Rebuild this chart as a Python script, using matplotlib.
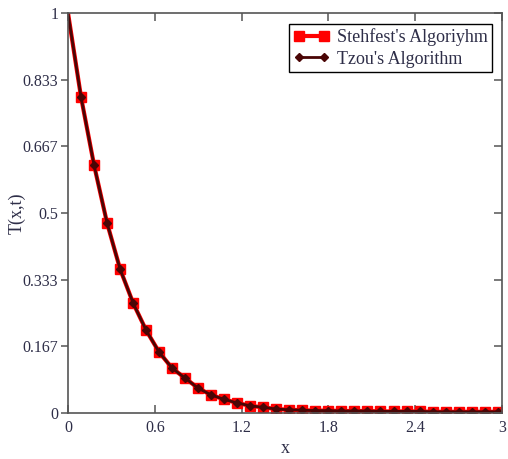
import numpy as np
import matplotlib.pyplot as plt

plt.rcParams['font.family'] = ['Liberation Serif', 'DejaVu Serif']

# sample points along x (step 0.09)
x = np.round(np.arange(0, 34) * 0.09, 2)

# Stehfest numerical inversion
T_stehfest = [1.0, 0.79, 0.62, 0.475, 0.36, 0.275, 0.207, 0.152, 0.112, 0.087,
              0.062, 0.045, 0.034, 0.025, 0.018, 0.014, 0.010, 0.008, 0.007, 0.006,
              0.006, 0.005, 0.005, 0.005, 0.004, 0.004, 0.004, 0.004, 0.003, 0.003,
              0.003, 0.003, 0.003, 0.003]

# Tzou's algorithm
T_tzou = [1.0, 0.79, 0.62, 0.475, 0.36, 0.275, 0.207, 0.152, 0.112, 0.087,
          0.062, 0.045, 0.034, 0.025, 0.018, 0.014, 0.010, 0.008, 0.007, 0.006,
          0.006, 0.005, 0.005, 0.005, 0.004, 0.004, 0.004, 0.004, 0.003, 0.003,
          0.003, 0.003, 0.003, 0.003]

yticks = [0, 0.167, 0.333, 0.5, 0.667, 0.833, 1]
ytick_labels = ['0', '0.167', '0.333', '0.5', '0.667', '0.833', '1']
xticks = [0, 0.6, 1.2, 1.8, 2.4, 3]
xtick_labels = ['0', '0.6', '1.2', '1.8', '2.4', '3']

txt_color = '#2e2e48'
spine_color = '#555555'

fig = plt.figure(figsize=(5.08, 4.59), dpi=100)
ax = fig.add_axes([68 / 508, 46 / 459, 434 / 508, 400 / 459])

ax.plot(x, T_stehfest, color='red', lw=3, marker='s', ms=6.5,
        markevery=slice(1, None), label="Stehfest's Algoriyhm")
ax.plot(x, T_tzou, color='#4a0505', lw=2, marker='D', ms=4.5,
        markevery=slice(1, None), label="Tzou's Algorithm")

ax.set_xlim(0, 3)
ax.set_ylim(0, 1)
ax.set_xticks(xticks)
ax.set_xticklabels(xtick_labels)
ax.set_yticks(yticks)
ax.set_yticklabels(ytick_labels)

ax.tick_params(axis='x', direction='in', top=True, length=6, width=1.1,
               color=spine_color, labelsize=11.5, labelcolor=txt_color, pad=5)
ax.tick_params(axis='y', direction='out', length=5, width=1.1,
               color=spine_color, labelsize=11.5, labelcolor=txt_color, pad=2)
for s in ax.spines.values():
    s.set_color(spine_color)
    s.set_linewidth(1.2)

# inward ticks on the right side
ax2 = ax.twinx()
ax2.set_ylim(0, 1)
ax2.set_yticks(yticks)
ax2.tick_params(axis='y', direction='in', length=6, width=1.1,
                color=spine_color, labelright=False)
for s in ax2.spines.values():
    s.set_visible(False)

ax.set_xlabel('x', fontsize=13, color=txt_color, labelpad=3)
ax.set_ylabel('T(x,t)', fontsize=13, color=txt_color, labelpad=-2)

leg = ax.legend(loc='upper right', bbox_to_anchor=(0.977, 0.973),
                borderaxespad=0, fontsize=13, fancybox=False, framealpha=1,
                edgecolor='black', numpoints=2, handlelength=2.0,
                handletextpad=0.4, borderpad=0.25, labelspacing=0.25)
leg.get_frame().set_linewidth(1.0)
for t in leg.get_texts():
    t.set_color(txt_color)

fig.savefig('out.png', dpi=100)
